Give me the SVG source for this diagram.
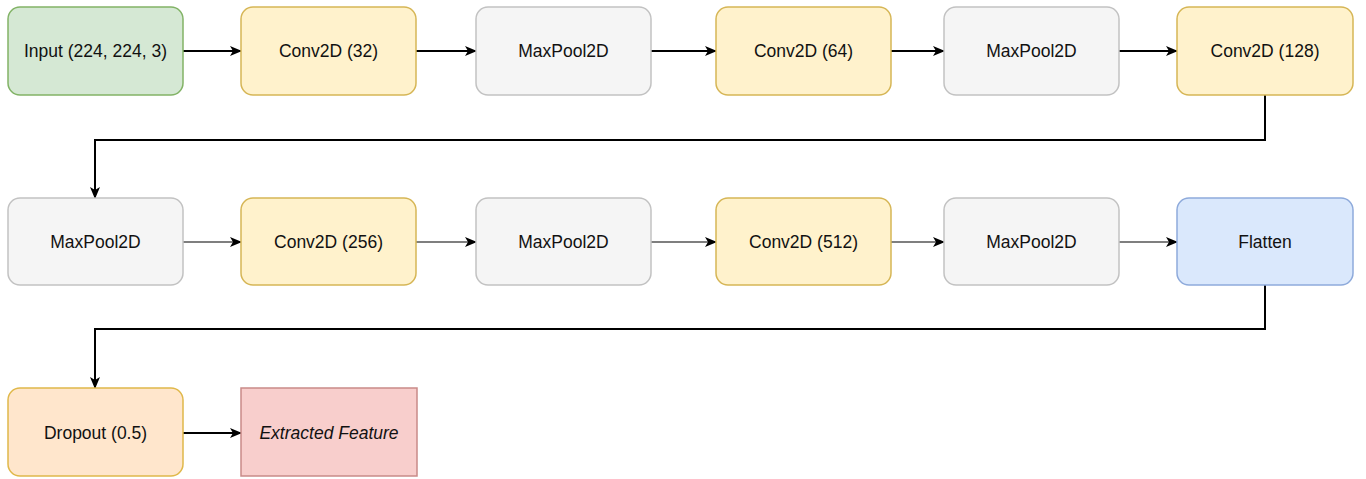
<svg xmlns="http://www.w3.org/2000/svg" width="1366" height="479" viewBox="0 0 1366 479">
<defs>
<marker id="ah" markerWidth="12" markerHeight="10" refX="11" refY="5" orient="auto" markerUnits="userSpaceOnUse">
<path d="M0,0 L12,5 L0,10 L3,5 Z" fill="#000"/>
</marker>
</defs>
<style>
.n rect{stroke-width:1.5}
.t{font-family:"Liberation Sans",Arial,sans-serif;font-size:17.5px;fill:#111;text-anchor:middle;dominant-baseline:central}
.green{fill:#d5e8d4;stroke:#82b366}
.yellow{fill:#fff2cc;stroke:#d6b656}
.gray{fill:#f5f5f5;stroke:#c2c2c2}
.blue{fill:#dae8fc;stroke:#8eaadb}
.orange{fill:#ffe6cc;stroke:#e0b84a}
.red{fill:#f8cecc;stroke:#c98a88}
.c1{fill:none;stroke:#000;stroke-width:2}
.c2{fill:none;stroke:#000;stroke-width:1.2}
</style>
<rect width="1366" height="479" fill="#fff"/>
<g id="connectors">
<path class="c1" d="M183,51 H241" marker-end="url(#ah)"/>
<path class="c1" d="M416,51 H476" marker-end="url(#ah)"/>
<path class="c1" d="M651,51 H716" marker-end="url(#ah)"/>
<path class="c1" d="M891,51 H944" marker-end="url(#ah)"/>
<path class="c1" d="M1119,51 H1177" marker-end="url(#ah)"/>
<path class="c1" d="M1265,95 V140 H95 V198" marker-end="url(#ah)"/>
<path class="c2" d="M183,242 H241" marker-end="url(#ah)"/>
<path class="c2" d="M416,242 H476" marker-end="url(#ah)"/>
<path class="c2" d="M651,242 H716" marker-end="url(#ah)"/>
<path class="c2" d="M891,242 H944" marker-end="url(#ah)"/>
<path class="c2" d="M1119,242 H1177" marker-end="url(#ah)"/>
<path class="c1" d="M1265,285 V329 H95 V388" marker-end="url(#ah)"/>
<path class="c1" d="M183,433 H241" marker-end="url(#ah)"/>
</g>
<g id="input" class="n"><rect class="green" x="8" y="7" width="175" height="88" rx="12"/><text class="t" x="95.5" y="51">Input (224, 224, 3)</text></g>
<g id="conv32" class="n"><rect class="yellow" x="241" y="7" width="175" height="88" rx="12"/><text class="t" x="328.5" y="51">Conv2D (32)</text></g>
<g id="pool1" class="n"><rect class="gray" x="476" y="7" width="175" height="88" rx="12"/><text class="t" x="563.5" y="51">MaxPool2D</text></g>
<g id="conv64" class="n"><rect class="yellow" x="716" y="7" width="175" height="88" rx="12"/><text class="t" x="803.5" y="51">Conv2D (64)</text></g>
<g id="pool2" class="n"><rect class="gray" x="944" y="7" width="175" height="88" rx="12"/><text class="t" x="1031.5" y="51">MaxPool2D</text></g>
<g id="conv128" class="n"><rect class="yellow" x="1177" y="7" width="176" height="88" rx="12"/><text class="t" x="1265" y="51">Conv2D (128)</text></g>
<g id="pool3" class="n"><rect class="gray" x="8" y="198" width="175" height="87" rx="12"/><text class="t" x="95.5" y="242">MaxPool2D</text></g>
<g id="conv256" class="n"><rect class="yellow" x="241" y="198" width="175" height="87" rx="12"/><text class="t" x="328.5" y="242">Conv2D (256)</text></g>
<g id="pool4" class="n"><rect class="gray" x="476" y="198" width="175" height="87" rx="12"/><text class="t" x="563.5" y="242">MaxPool2D</text></g>
<g id="conv512" class="n"><rect class="yellow" x="716" y="198" width="175" height="87" rx="12"/><text class="t" x="803.5" y="242">Conv2D (512)</text></g>
<g id="pool5" class="n"><rect class="gray" x="944" y="198" width="175" height="87" rx="12"/><text class="t" x="1031.5" y="242">MaxPool2D</text></g>
<g id="flatten" class="n"><rect class="blue" x="1177" y="198" width="176" height="87" rx="12"/><text class="t" x="1265" y="242">Flatten</text></g>
<g id="dropout" class="n"><rect class="orange" x="8" y="388" width="175" height="88" rx="12"/><text class="t" x="95.5" y="433">Dropout (0.5)</text></g>
<g id="feature" class="n"><rect class="red" x="241" y="388" width="176" height="88"/><text class="t" x="329" y="433" font-style="italic">Extracted Feature</text></g>
</svg>
